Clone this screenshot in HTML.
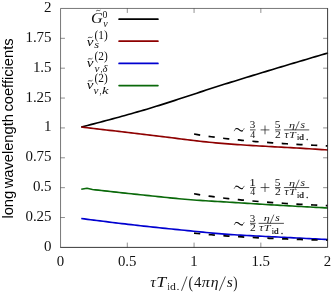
<!DOCTYPE html>
<html><head><meta charset="utf-8"><title>plot</title><style>html,body{margin:0;padding:0;background:#fff}svg{display:block;will-change:transform}text{font-kerning:normal}</style></head>
<body>
<svg width="332" height="293" viewBox="0 0 332 293">
<rect width="332" height="293" fill="#fff"/>
<polyline fill="none" stroke="#000" stroke-width="1.65" points="81.25,127.00 84.37,126.22 87.50,125.43 90.62,124.63 93.74,123.83 96.87,123.02 99.99,122.21 103.11,121.39 106.24,120.56 109.36,119.72 112.48,118.88 115.61,118.03 118.73,117.18 121.85,116.32 124.98,115.45 128.10,114.57 131.22,113.69 134.35,112.80 137.47,111.90 140.59,111.00 143.72,110.09 146.84,109.17 149.97,108.23 153.09,107.28 156.21,106.32 159.34,105.35 162.46,104.36 165.58,103.37 168.71,102.37 171.83,101.36 174.95,100.35 178.08,99.33 181.20,98.31 184.32,97.28 187.45,96.25 190.57,95.22 193.69,94.19 196.82,93.16 199.94,92.13 203.06,91.11 206.19,90.08 209.31,89.07 212.43,88.05 215.56,87.05 218.68,86.05 221.80,85.06 224.93,84.08 228.05,83.11 231.17,82.14 234.30,81.18 237.42,80.21 240.54,79.25 243.67,78.29 246.79,77.33 249.91,76.37 253.04,75.41 256.16,74.46 259.28,73.50 262.41,72.55 265.53,71.60 268.66,70.65 271.78,69.71 274.90,68.76 278.03,67.82 281.15,66.88 284.27,65.94 287.40,65.00 290.52,64.07 293.64,63.13 296.77,62.20 299.89,61.27 303.01,60.35 306.14,59.42 309.26,58.50 312.38,57.58 315.51,56.66 318.63,55.74 321.75,54.82 324.88,53.91 328.00,53.00"/>
<polyline fill="none" stroke="#8e0000" stroke-width="1.65" points="81.25,127.00 84.37,127.37 87.50,127.74 90.62,128.11 93.74,128.48 96.87,128.85 99.99,129.22 103.11,129.59 106.24,129.95 109.36,130.32 112.48,130.69 115.61,131.05 118.73,131.42 121.85,131.79 124.98,132.15 128.10,132.52 131.22,132.88 134.35,133.24 137.47,133.61 140.59,133.97 143.72,134.33 146.84,134.70 149.97,135.08 153.09,135.45 156.21,135.84 159.34,136.23 162.46,136.62 165.58,137.01 168.71,137.41 171.83,137.80 174.95,138.19 178.08,138.59 181.20,138.98 184.32,139.36 187.45,139.74 190.57,140.12 193.69,140.49 196.82,140.86 199.94,141.21 203.06,141.56 206.19,141.90 209.31,142.22 212.43,142.54 215.56,142.84 218.68,143.13 221.80,143.40 224.93,143.66 228.05,143.91 231.17,144.15 234.30,144.37 237.42,144.59 240.54,144.80 243.67,145.01 246.79,145.21 249.91,145.40 253.04,145.59 256.16,145.77 259.28,145.95 262.41,146.13 265.53,146.30 268.66,146.47 271.78,146.64 274.90,146.81 278.03,146.98 281.15,147.15 284.27,147.32 287.40,147.49 290.52,147.66 293.64,147.84 296.77,148.01 299.89,148.19 303.01,148.38 306.14,148.57 309.26,148.77 312.38,148.97 315.51,149.17 318.63,149.38 321.75,149.58 324.88,149.79 328.00,150.00"/>
<polyline fill="none" stroke="#0a690a" stroke-width="1.65" stroke-linejoin="round" points="81.25,189.25 87,188.25 92.5,189.5 92.50,189.50 95.48,189.84 98.46,190.18 101.44,190.51 104.42,190.85 107.41,191.18 110.39,191.51 113.37,191.84 116.35,192.17 119.33,192.49 122.31,192.81 125.29,193.14 128.27,193.45 131.25,193.77 134.23,194.09 137.22,194.40 140.20,194.71 143.18,195.02 146.16,195.33 149.14,195.64 152.12,195.96 155.10,196.27 158.08,196.59 161.06,196.90 164.04,197.22 167.03,197.53 170.01,197.83 172.99,198.13 175.97,198.43 178.95,198.71 181.93,198.99 184.91,199.26 187.89,199.51 190.87,199.76 193.85,199.99 196.84,200.21 199.82,200.41 202.80,200.61 205.78,200.80 208.76,200.98 211.74,201.16 214.72,201.33 217.70,201.50 220.68,201.68 223.66,201.86 226.65,202.04 229.63,202.23 232.61,202.41 235.59,202.60 238.57,202.78 241.55,202.97 244.53,203.16 247.51,203.34 250.49,203.53 253.47,203.71 256.46,203.90 259.44,204.08 262.42,204.27 265.40,204.45 268.38,204.63 271.36,204.81 274.34,204.99 277.32,205.17 280.30,205.34 283.28,205.52 286.27,205.69 289.25,205.86 292.23,206.03 295.21,206.20 298.19,206.37 301.17,206.54 304.15,206.70 307.13,206.87 310.11,207.03 313.09,207.20 316.08,207.36 319.06,207.52 322.04,207.68 325.02,207.84 328.00,208.00"/>
<polyline fill="none" stroke="#0000d0" stroke-width="1.65" points="81.25,218.50 84.37,218.91 87.50,219.32 90.62,219.72 93.74,220.12 96.87,220.52 99.99,220.91 103.11,221.30 106.24,221.69 109.36,222.07 112.48,222.45 115.61,222.83 118.73,223.20 121.85,223.57 124.98,223.94 128.10,224.31 131.22,224.67 134.35,225.03 137.47,225.38 140.59,225.73 143.72,226.08 146.84,226.42 149.97,226.76 153.09,227.10 156.21,227.43 159.34,227.76 162.46,228.09 165.58,228.41 168.71,228.73 171.83,229.05 174.95,229.36 178.08,229.68 181.20,229.99 184.32,230.30 187.45,230.61 190.57,230.91 193.69,231.22 196.82,231.53 199.94,231.84 203.06,232.16 206.19,232.48 209.31,232.79 212.43,233.10 215.56,233.39 218.68,233.67 221.80,233.93 224.93,234.17 228.05,234.39 231.17,234.60 234.30,234.80 237.42,234.99 240.54,235.17 243.67,235.34 246.79,235.51 249.91,235.68 253.04,235.84 256.16,235.99 259.28,236.15 262.41,236.30 265.53,236.45 268.66,236.60 271.78,236.75 274.90,236.90 278.03,237.05 281.15,237.21 284.27,237.36 287.40,237.52 290.52,237.68 293.64,237.84 296.77,237.99 299.89,238.15 303.01,238.30 306.14,238.45 309.26,238.61 312.38,238.76 315.51,238.91 318.63,239.06 321.75,239.21 324.88,239.35 328.00,239.50"/>
<polyline fill="none" stroke="#000" stroke-width="1.7" stroke-dasharray="6.2 8.5" points="194.07,134.02 197.50,134.62 200.92,135.18 204.35,135.72 207.77,136.24 211.19,136.73 214.62,137.19 218.04,137.64 221.46,138.07 224.89,138.48 228.31,138.88 231.74,139.25 235.16,139.62 238.58,139.97 242.01,140.30 245.43,140.63 248.85,140.94 252.28,141.24 255.70,141.53 259.13,141.81 262.55,142.08 265.97,142.34 269.40,142.60 272.82,142.84 276.24,143.08 279.67,143.31 283.09,143.53 286.52,143.75 289.94,143.96 293.36,144.16 296.79,144.36 300.21,144.55 303.63,144.74 307.06,144.92 310.48,145.10 313.91,145.27 317.33,145.43 320.75,145.60 324.18,145.76 327.60,145.91"/>
<polyline fill="none" stroke="#000" stroke-width="1.7" stroke-dasharray="6.2 8.5" points="194.07,193.76 197.50,194.36 200.92,194.92 204.35,195.46 207.77,195.97 211.19,196.46 214.62,196.93 218.04,197.38 221.46,197.81 224.89,198.22 228.31,198.61 231.74,198.99 235.16,199.36 238.58,199.70 242.01,200.04 245.43,200.36 248.85,200.68 252.28,200.98 255.70,201.27 259.13,201.55 262.55,201.82 265.97,202.08 269.40,202.33 272.82,202.58 276.24,202.82 279.67,203.05 283.09,203.27 286.52,203.49 289.94,203.70 293.36,203.90 296.79,204.10 300.21,204.29 303.63,204.48 307.06,204.66 310.48,204.83 313.91,205.00 317.33,205.17 320.75,205.33 324.18,205.49 327.60,205.65"/>
<polyline fill="none" stroke="#000" stroke-width="1.7" stroke-dasharray="6.2 8.5" points="194.07,233.14 197.50,233.50 200.92,233.83 204.35,234.16 207.77,234.47 211.19,234.76 214.62,235.04 218.04,235.31 221.46,235.57 224.89,235.81 228.31,236.05 231.74,236.28 235.16,236.49 238.58,236.70 242.01,236.91 245.43,237.10 248.85,237.29 252.28,237.47 255.70,237.64 259.13,237.81 262.55,237.97 265.97,238.13 269.40,238.28 272.82,238.43 276.24,238.57 279.67,238.71 283.09,238.84 286.52,238.97 289.94,239.10 293.36,239.22 296.79,239.34 300.21,239.45 303.63,239.57 307.06,239.68 310.48,239.78 313.91,239.88 317.33,239.98 320.75,240.08 324.18,240.18 327.60,240.27"/>
<g stroke="#222" fill="none">
<path d="M60.55,247.4V8.45H327.6" stroke-width="0.62"/>
<path d="M60.25,247.4H327.6V8.149999999999999" stroke-width="0.9"/>
<g stroke-width="0.5">
<line x1="60.55" y1="217.53" x2="64.95" y2="217.53"/>
<line x1="327.6" y1="217.53" x2="323.1" y2="217.53"/>
<line x1="60.55" y1="187.66" x2="64.95" y2="187.66"/>
<line x1="327.6" y1="187.66" x2="323.1" y2="187.66"/>
<line x1="60.55" y1="157.79" x2="64.95" y2="157.79"/>
<line x1="327.6" y1="157.79" x2="323.1" y2="157.79"/>
<line x1="60.55" y1="127.92" x2="64.95" y2="127.92"/>
<line x1="327.6" y1="127.92" x2="323.1" y2="127.92"/>
<line x1="60.55" y1="98.06" x2="64.95" y2="98.06"/>
<line x1="327.6" y1="98.06" x2="323.1" y2="98.06"/>
<line x1="60.55" y1="68.19" x2="64.95" y2="68.19"/>
<line x1="327.6" y1="68.19" x2="323.1" y2="68.19"/>
<line x1="60.55" y1="38.32" x2="64.95" y2="38.32"/>
<line x1="327.6" y1="38.32" x2="323.1" y2="38.32"/>
<line x1="127.31" y1="247.4" x2="127.31" y2="242.6"/>
<line x1="127.31" y1="8.45" x2="127.31" y2="12.95"/>
<line x1="194.07" y1="247.4" x2="194.07" y2="242.6"/>
<line x1="194.07" y1="8.45" x2="194.07" y2="12.95"/>
<line x1="260.84" y1="247.4" x2="260.84" y2="242.6"/>
<line x1="260.84" y1="8.45" x2="260.84" y2="12.95"/>
</g></g>
<g font-family="Liberation Serif, serif" font-size="14" fill="#111">
<text transform="translate(51.6,251.0) scale(1.07,1)" text-anchor="end">0</text>
<text transform="translate(51.6,221.0) scale(1.07,1)" text-anchor="end">0.25</text>
<text transform="translate(51.6,191.4) scale(1.07,1)" text-anchor="end">0.5</text>
<text transform="translate(51.6,161.3) scale(1.07,1)" text-anchor="end">0.75</text>
<text transform="translate(51.6,131.4) scale(1.07,1)" text-anchor="end">1</text>
<text transform="translate(51.6,101.5) scale(1.07,1)" text-anchor="end">1.25</text>
<text transform="translate(51.6,71.5) scale(1.07,1)" text-anchor="end">1.5</text>
<text transform="translate(51.6,41.6) scale(1.07,1)" text-anchor="end">1.75</text>
<text transform="translate(51.6,11.5) scale(1.07,1)" text-anchor="end">2</text>
<text transform="translate(60.40,265.75) scale(1.06,1)" text-anchor="middle">0</text>
<text transform="translate(127.16,265.75) scale(1.06,1)" text-anchor="middle">0.5</text>
<text transform="translate(193.92,265.75) scale(1.06,1)" text-anchor="middle">1</text>
<text transform="translate(260.69,265.75) scale(1.06,1)" text-anchor="middle">1.5</text>
<text transform="translate(327.45,265.75) scale(1.06,1)" text-anchor="middle">2</text>
</g>
<text transform="translate(12.5,128.5) rotate(-90) scale(1,0.94)" text-anchor="middle" font-family="Liberation Sans, sans-serif" font-size="14.7" word-spacing="-1.6" fill="#000">long wavelength coefficients</text>
<g font-family="Liberation Serif, serif" fill="#111">
<text transform="translate(150.16,287.2) scale(1.112,1)" font-size="14" font-style="italic">τ</text>
<text transform="translate(156.33,287.2) scale(1.188,1)" font-size="15" font-style="italic">T</text>
<text transform="translate(167.42,290.09999999999997) scale(0.841,1)" font-size="10">i</text>
<text transform="translate(169.88,290.09999999999997) scale(1.173,1)" font-size="10">d</text>
<text transform="translate(176.42,290.09999999999997) scale(1.185,1)" font-size="10">.</text>
<text transform="translate(188.60,287.5) scale(0.826,1)" font-size="16.5">(</text>
<text transform="translate(194.01,287.2) scale(1.060,1)" font-size="14">4</text>
<text transform="translate(201.71,287.2) scale(1.157,1)" font-size="14" font-style="italic">π</text>
<text transform="translate(210.64,287.2) scale(1.125,1)" font-size="14" font-style="italic">η</text>
<text transform="translate(226.81,287.2) scale(1.113,1)" font-size="14" font-style="italic">s</text>
<text transform="translate(233.29,287.5) scale(0.779,1)" font-size="16.5">)</text>
<line x1="181.5" y1="290.8" x2="187.0" y2="276.4" stroke="#111" stroke-width="0.75"/>
<line x1="219.3" y1="290.8" x2="225.4" y2="276.4" stroke="#111" stroke-width="0.75"/>
</g>
<line x1="119.1" y1="19.2" x2="157.9" y2="19.2" stroke="#000" stroke-width="1.75" stroke-linecap="round"/>
<line x1="119.1" y1="41.2" x2="157.9" y2="41.2" stroke="#8e0000" stroke-width="1.75" stroke-linecap="round"/>
<line x1="119.1" y1="63.4" x2="157.9" y2="63.4" stroke="#0000d0" stroke-width="1.75" stroke-linecap="round"/>
<line x1="119.1" y1="85.5" x2="157.9" y2="85.5" stroke="#0a690a" stroke-width="1.75" stroke-linecap="round"/>
<g font-family="Liberation Serif, serif" fill="#111">
<text transform="translate(91.0,23.3) scale(1.08,1)" font-size="15" font-style="italic" text-anchor="start">G</text>
<path d="M96.2,11.0 C97.25,9.3 99.35,11.7 100.39999999999999,10.0" fill="none" stroke="#111" stroke-width="0.7"/>
<text transform="translate(102.5,18.3) scale(1.05,1)" font-size="9.3" text-anchor="start">0</text>
<text transform="translate(103.3,26.6) scale(1.0,1)" font-size="10" font-style="italic" text-anchor="start">v</text>
<text transform="translate(86.69,46.2) scale(1.228,1)" font-size="12.3" font-style="italic">v</text>
<path d="M87.9,38.0 C89.05,35.96 91.35000000000001,38.839999999999996 92.5,36.8" fill="none" stroke="#111" stroke-width="0.7"/>
<text transform="translate(94.5,38.75) scale(0.96,1)" font-size="11.8" text-anchor="start">(1)</text>
<text transform="translate(94.35,47.9) scale(1.204,1)" font-size="10.3" font-style="italic">s</text>
<text transform="translate(86.69,67.1) scale(1.228,1)" font-size="12.3" font-style="italic">v</text>
<path d="M87.9,59.4 C89.05,57.36 91.35000000000001,60.239999999999995 92.5,58.199999999999996" fill="none" stroke="#111" stroke-width="0.7"/>
<text transform="translate(94.5,59.65) scale(0.96,1)" font-size="11.8" text-anchor="start">(2)</text>
<text transform="translate(94.45,71.5) scale(1.083,1)" font-size="10.3" font-style="italic">v</text>
<text transform="translate(100.49,71.5) scale(0.782,1)" font-size="10.3">,</text>
<text transform="translate(102.49,71.5) scale(1.070,1)" font-size="10.0" font-style="italic">δ</text>
<text transform="translate(86.69,89.1) scale(1.228,1)" font-size="12.3" font-style="italic">v</text>
<path d="M87.9,81.39999999999999 C89.05,79.36 91.35000000000001,82.24 92.5,80.2" fill="none" stroke="#111" stroke-width="0.7"/>
<text transform="translate(94.5,81.85) scale(0.96,1)" font-size="11.8" text-anchor="start">(2)</text>
<text transform="translate(93.45,93.5) scale(1.083,1)" font-size="10.3" font-style="italic">v</text>
<text transform="translate(99.49,93.5) scale(0.782,1)" font-size="10.3">,</text>
<text transform="translate(101.88,93.5) scale(1.466,1)" font-size="10.0" font-style="italic">k</text>
</g>
<g font-family="Liberation Serif, serif" fill="#111">
<path d="M234.3,130.75 C234.89,129.38 235.67,128.50 236.85,128.50 C238.71,128.50 239.49,131.00 241.45,131.00 C242.63,131.00 243.51,130.00 244.1,128.62" fill="none" stroke="#111" stroke-width="0.6" stroke-linecap="round"/><path d="M235.87,128.69 C236.26,128.50 236.55,128.50 236.85,128.50 C238.71,128.50 239.49,131.00 241.45,131.00 C241.85,131.00 242.14,131.00 242.53,130.81" fill="none" stroke="#111" stroke-width="1.05" stroke-linecap="round"/>
<line x1="250.0" y1="129.9" x2="255.6" y2="129.9" stroke="#111" stroke-width="0.75"/><text transform="translate(249.87,128.3) scale(1.197,1)" font-size="9.3">3</text><text transform="translate(250.21,137.70000000000002) scale(1.064,1)" font-size="9.3">4</text>
<path d="M260.6,129.9H269.4M265.0,125.5V134.3" stroke="#111" stroke-width="0.7" fill="none"/>
<line x1="275.0" y1="129.9" x2="280.6" y2="129.9" stroke="#111" stroke-width="0.75"/><text transform="translate(274.74,128.3) scale(1.228,1)" font-size="9.3">5</text><text transform="translate(274.90,137.70000000000002) scale(1.234,1)" font-size="9.3">2</text>
<line x1="283.9" y1="129.9" x2="309.2" y2="129.9" stroke="#111" stroke-width="0.75"/><text transform="translate(288.97,127.55000000000001) scale(1.399,1)" font-size="8.7" font-style="italic">η</text><line x1="295.3" y1="130.25" x2="299.2" y2="121.25000000000001" stroke="#111" stroke-width="0.65"/><text transform="translate(300.46,127.55000000000001) scale(1.227,1)" font-size="9.4" font-style="italic">s</text><text transform="translate(284.45,137.55) scale(1.191,1)" font-size="9.4" font-style="italic">τ</text><text transform="translate(289.00,137.55) scale(1.325,1)" font-size="9.2" font-style="italic">T</text><text transform="translate(297.27,140.15) scale(0.830,1)" font-size="7.6" stroke="#111" stroke-width="0.25">i</text><text transform="translate(299.36,140.15) scale(1.224,1)" font-size="7.6" stroke="#111" stroke-width="0.25">d</text><text transform="translate(306.03,140.15) scale(1.336,1)" font-size="7.6" stroke="#111" stroke-width="0.25">.</text>
<path d="M234.3,188.40 C234.89,187.03 235.67,186.15 236.85,186.15 C238.71,186.15 239.49,188.65 241.45,188.65 C242.63,188.65 243.51,187.65 244.1,186.28" fill="none" stroke="#111" stroke-width="0.6" stroke-linecap="round"/><path d="M235.87,186.34 C236.26,186.15 236.55,186.15 236.85,186.15 C238.71,186.15 239.49,188.65 241.45,188.65 C241.85,188.65 242.14,188.65 242.53,188.46" fill="none" stroke="#111" stroke-width="1.05" stroke-linecap="round"/>
<line x1="250.0" y1="187.55" x2="255.6" y2="187.55" stroke="#111" stroke-width="0.75"/><text transform="translate(249.25,186.3) scale(1.405,1)" font-size="9.3">1</text><text transform="translate(250.21,195.35000000000002) scale(1.064,1)" font-size="9.3">4</text>
<path d="M260.6,187.55H269.4M265.0,183.15V191.95000000000002" stroke="#111" stroke-width="0.7" fill="none"/>
<line x1="275.0" y1="187.55" x2="280.6" y2="187.55" stroke="#111" stroke-width="0.75"/><text transform="translate(274.74,186.3) scale(1.228,1)" font-size="9.3">5</text><text transform="translate(274.90,195.35000000000002) scale(1.234,1)" font-size="9.3">2</text>
<line x1="283.9" y1="187.55" x2="309.2" y2="187.55" stroke="#111" stroke-width="0.75"/><text transform="translate(288.97,186.0) scale(1.399,1)" font-size="8.7" font-style="italic">η</text><line x1="295.3" y1="188.7" x2="299.2" y2="179.7" stroke="#111" stroke-width="0.65"/><text transform="translate(300.46,186.0) scale(1.227,1)" font-size="9.4" font-style="italic">s</text><text transform="translate(284.45,195.20000000000002) scale(1.191,1)" font-size="9.4" font-style="italic">τ</text><text transform="translate(289.00,195.20000000000002) scale(1.325,1)" font-size="9.2" font-style="italic">T</text><text transform="translate(297.27,197.8) scale(0.830,1)" font-size="7.6" stroke="#111" stroke-width="0.25">i</text><text transform="translate(299.36,197.8) scale(1.224,1)" font-size="7.6" stroke="#111" stroke-width="0.25">d</text><text transform="translate(306.03,197.8) scale(1.336,1)" font-size="7.6" stroke="#111" stroke-width="0.25">.</text>
<path d="M234.3,224.65 C234.89,223.28 235.67,222.40 236.85,222.40 C238.71,222.40 239.49,224.90 241.45,224.90 C242.63,224.90 243.51,223.90 244.1,222.53" fill="none" stroke="#111" stroke-width="0.6" stroke-linecap="round"/><path d="M235.87,222.59 C236.26,222.40 236.55,222.40 236.85,222.40 C238.71,222.40 239.49,224.90 241.45,224.90 C241.85,224.90 242.14,224.90 242.53,224.71" fill="none" stroke="#111" stroke-width="1.05" stroke-linecap="round"/>
<line x1="250.0" y1="223.35" x2="255.6" y2="223.35" stroke="#111" stroke-width="0.75"/><text transform="translate(249.87,221.85) scale(1.197,1)" font-size="9.3">3</text><text transform="translate(249.90,231.15) scale(1.234,1)" font-size="9.3">2</text>
<line x1="258.6" y1="223.35" x2="283.90000000000003" y2="223.35" stroke="#111" stroke-width="0.75"/><text transform="translate(263.67,220.9) scale(1.399,1)" font-size="8.7" font-style="italic">η</text><line x1="270.00000000000006" y1="223.6" x2="273.90000000000003" y2="214.6" stroke="#111" stroke-width="0.65"/><text transform="translate(275.16,220.9) scale(1.227,1)" font-size="9.4" font-style="italic">s</text><text transform="translate(259.15,231.0) scale(1.191,1)" font-size="9.4" font-style="italic">τ</text><text transform="translate(263.70,231.0) scale(1.325,1)" font-size="9.2" font-style="italic">T</text><text transform="translate(271.97,233.6) scale(0.830,1)" font-size="7.6" stroke="#111" stroke-width="0.25">i</text><text transform="translate(274.06,233.6) scale(1.224,1)" font-size="7.6" stroke="#111" stroke-width="0.25">d</text><text transform="translate(280.73,233.6) scale(1.336,1)" font-size="7.6" stroke="#111" stroke-width="0.25">.</text>
</g>
</svg>
</body></html>
